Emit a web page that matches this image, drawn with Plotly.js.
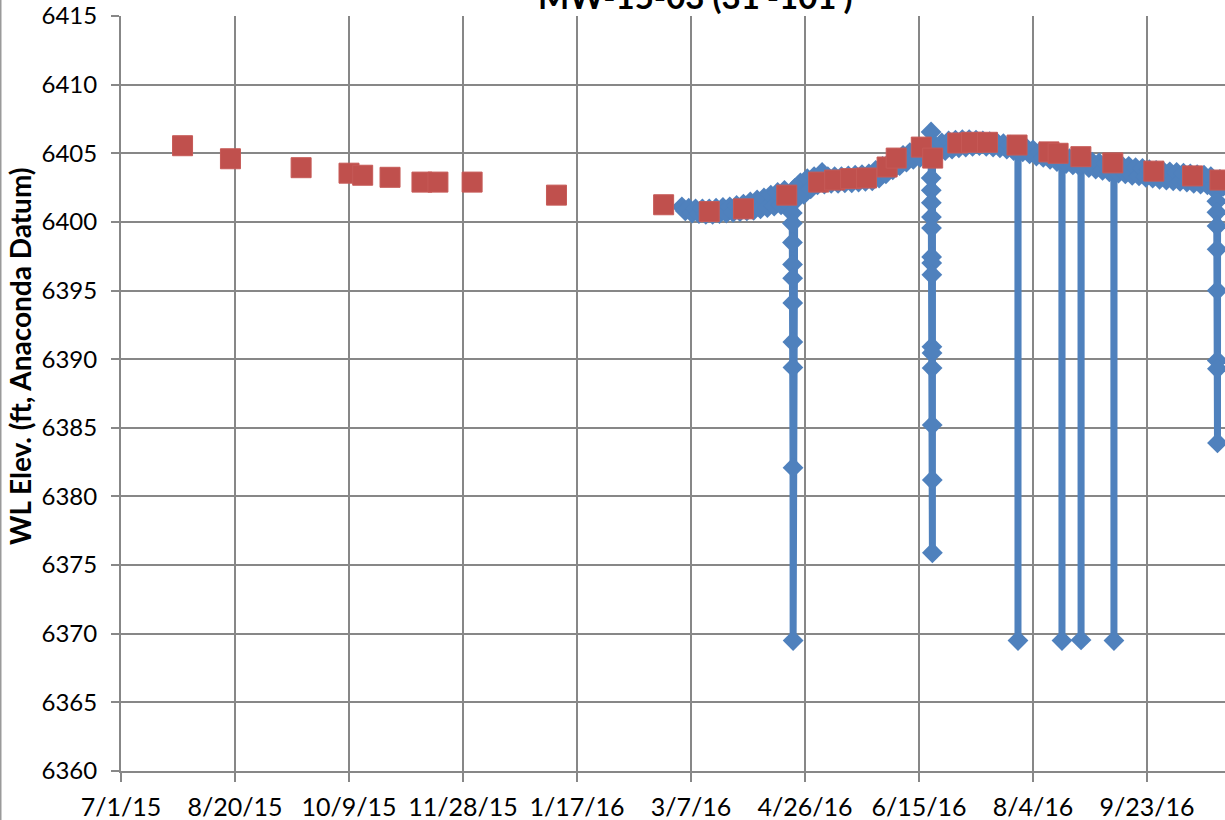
<!DOCTYPE html>
<html>
<head>
<meta charset="utf-8">
<script src="https://cdn.plot.ly/plotly-3.0.1.min.js"></script>
<style>
html,body{margin:0;padding:0;background:#fff;}
#chart{width:1225px;height:820px;}
</style>
</head>
<body>
<div id="chart"></div>
<script>
// Manual water-level measurements (red squares)
var manualDates = ['2015-07-28','2015-08-18','2015-09-18','2015-10-09','2015-10-15','2015-10-27',
  '2015-11-10','2015-11-17','2015-12-02','2016-01-08','2016-02-24','2016-03-15','2016-03-30',
  '2016-04-18','2016-05-02','2016-05-09','2016-05-16','2016-05-23','2016-06-01','2016-06-05',
  '2016-06-16','2016-06-21','2016-07-02','2016-07-08','2016-07-15','2016-07-28','2016-08-11',
  '2016-08-15','2016-08-25','2016-09-08','2016-09-26','2016-10-13','2016-10-25'];
var manualWL = [6405.55,6404.6,6403.95,6403.55,6403.4,6403.25,
  6402.9,6402.9,6402.9,6401.95,6401.25,6400.75,6400.95,
  6401.95,6402.9,6403.05,6403.15,6403.2,6404.0,6404.65,
  6405.45,6404.65,6405.75,6405.8,6405.8,6405.6,6405.1,
  6405.0,6404.75,6404.3,6403.7,6403.35,6403.05];

// Transducer record (blue diamonds)
var transducerTimes = [
  '2016-03-03 00:00','2016-03-04 12:00','2016-03-06 00:00','2016-03-07 12:00','2016-03-09 00:00','2016-03-10 12:00',
  '2016-03-12 00:00','2016-03-13 12:00','2016-03-15 00:00','2016-03-16 12:00','2016-03-18 00:00','2016-03-19 12:00',
  '2016-03-21 00:00','2016-03-22 12:00','2016-03-24 00:00','2016-03-25 12:00','2016-03-27 00:00','2016-03-28 12:00',
  '2016-03-30 00:00','2016-03-31 12:00','2016-04-02 00:00','2016-04-03 12:00','2016-04-05 00:00','2016-04-06 12:00',
  '2016-04-08 00:00','2016-04-09 12:00','2016-04-11 00:00','2016-04-12 12:00','2016-04-14 00:00','2016-04-15 12:00',
  '2016-04-17 00:00','2016-04-18 12:00',
  '2016-04-20 09:00','2016-04-20 10:00','2016-04-20 11:00','2016-04-20 12:00','2016-04-20 13:00','2016-04-20 14:00',
  '2016-04-20 15:00','2016-04-20 16:00','2016-04-20 17:00','2016-04-20 18:00','2016-04-20 19:00','2016-04-20 20:00',
  '2016-04-21 12:00','2016-04-22 12:00','2016-04-24 00:00','2016-04-25 12:00','2016-04-27 00:00','2016-04-28 12:00',
  '2016-04-30 00:00','2016-05-01 12:00','2016-05-03 12:00','2016-05-04 12:00','2016-05-06 00:00','2016-05-07 12:00',
  '2016-05-09 00:00','2016-05-10 12:00','2016-05-12 00:00','2016-05-13 12:00','2016-05-15 00:00','2016-05-16 12:00',
  '2016-05-18 00:00','2016-05-19 12:00','2016-05-21 00:00','2016-05-22 12:00','2016-05-24 00:00','2016-05-25 12:00',
  '2016-05-27 00:00','2016-05-28 12:00','2016-05-30 00:00','2016-05-31 12:00','2016-06-02 00:00','2016-06-03 12:00',
  '2016-06-05 00:00','2016-06-06 12:00','2016-06-08 00:00','2016-06-09 12:00','2016-06-11 00:00','2016-06-12 12:00',
  '2016-06-14 00:00','2016-06-15 12:00','2016-06-17 00:00','2016-06-18 12:00',
  '2016-06-20 06:00','2016-06-20 07:00','2016-06-20 08:00','2016-06-20 09:00','2016-06-20 10:00','2016-06-20 11:00',
  '2016-06-20 12:00','2016-06-20 13:00','2016-06-20 14:00','2016-06-20 15:00','2016-06-20 16:00','2016-06-20 17:00',
  '2016-06-20 18:00','2016-06-20 19:00','2016-06-20 20:00','2016-06-20 21:00','2016-06-20 22:00',
  '2016-06-22 00:00','2016-06-23 12:00','2016-06-25 00:00','2016-06-26 12:00','2016-06-28 00:00','2016-06-29 12:00',
  '2016-07-01 00:00','2016-07-02 12:00','2016-07-04 00:00','2016-07-05 12:00','2016-07-07 00:00','2016-07-08 12:00',
  '2016-07-10 00:00','2016-07-11 12:00','2016-07-13 00:00','2016-07-14 12:00','2016-07-16 00:00','2016-07-17 12:00',
  '2016-07-19 00:00','2016-07-20 12:00','2016-07-22 00:00','2016-07-23 12:00','2016-07-25 00:00','2016-07-26 12:00',
  '2016-07-28 09:00','2016-07-28 10:00','2016-07-28 11:00',
  '2016-07-29 12:00','2016-07-30 12:00','2016-08-01 00:00','2016-08-02 12:00','2016-08-04 00:00','2016-08-05 12:00',
  '2016-08-07 00:00','2016-08-08 12:00','2016-08-10 00:00','2016-08-11 12:00','2016-08-13 00:00','2016-08-14 12:00',
  '2016-08-16 16:00','2016-08-16 17:00','2016-08-16 18:00',
  '2016-08-17 12:00','2016-08-18 12:00','2016-08-20 00:00','2016-08-21 12:00','2016-08-23 00:00','2016-08-24 12:00',
  '2016-08-25 01:00','2016-08-25 02:00','2016-08-25 03:00',
  '2016-08-27 00:00','2016-08-28 12:00','2016-08-30 00:00','2016-08-31 12:00','2016-09-02 00:00','2016-09-03 12:00',
  '2016-09-05 00:00','2016-09-06 12:00',
  '2016-09-08 11:00','2016-09-08 12:00','2016-09-08 13:00',
  '2016-09-09 12:00','2016-09-10 12:00','2016-09-12 00:00','2016-09-13 12:00','2016-09-15 00:00','2016-09-16 12:00',
  '2016-09-18 00:00','2016-09-19 12:00','2016-09-21 00:00','2016-09-22 12:00','2016-09-24 00:00','2016-09-25 12:00',
  '2016-09-27 00:00','2016-09-28 12:00','2016-09-30 00:00','2016-10-01 12:00','2016-10-03 00:00','2016-10-04 12:00',
  '2016-10-06 00:00','2016-10-07 12:00','2016-10-09 00:00','2016-10-10 12:00','2016-10-12 00:00','2016-10-13 12:00',
  '2016-10-15 00:00','2016-10-16 12:00','2016-10-18 00:00','2016-10-19 12:00','2016-10-21 00:00','2016-10-22 12:00',
  '2016-10-23 13:00','2016-10-23 14:00','2016-10-23 15:00','2016-10-23 16:00','2016-10-23 17:00','2016-10-23 18:00',
  '2016-10-23 19:00','2016-10-23 20:00','2016-10-23 21:00','2016-10-23 22:00','2016-10-23 23:00',
  '2016-10-25 00:00','2016-10-26 12:00','2016-10-27 12:00'
];
var transducerWL = [
  6401.1,6400.8,6401.0,6400.65,6400.95,6400.6,
  6400.95,6400.55,6400.95,6400.55,6401.0,6400.6,
  6401.05,6400.65,6401.1,6400.7,6401.2,6400.75,
  6401.3,6400.8,6401.45,6400.85,6401.6,6400.95,
  6401.75,6401.05,6401.95,6401.15,6402.15,6401.25,
  6402.3,6401.4,
  6401.6,6400.65,6399.9,6398.5,6396.9,6395.9,
  6394.1,6391.25,6389.4,6382.1,6369.5,6401.9,
  6402.45,6401.7,6402.85,6402.0,6403.15,6402.4,
  6403.3,6402.7,6403.6,6402.75,6403.3,6402.8,
  6403.3,6402.8,6403.3,6402.85,6403.35,6402.85,
  6403.4,6402.9,6403.45,6402.95,6403.5,6403.0,
  6403.75,6403.2,6404.05,6403.5,6404.3,6403.8,
  6404.6,6404.1,6404.85,6404.35,6405.05,6404.55,
  6405.25,6404.7,6405.4,6404.85,
  6405.3,6406.55,6403.2,6402.3,6401.4,6400.35,
  6399.55,6397.45,6397.0,6396.15,6390.9,6390.45,
  6389.35,6385.2,6381.2,6375.9,6405.0,
  6405.55,6405.1,6405.75,6405.2,6405.9,6405.3,
  6405.95,6405.4,6406.0,6405.45,6406.0,6405.5,
  6405.95,6405.55,6405.9,6405.5,6405.85,6405.45,
  6405.8,6405.4,6405.7,6405.3,6405.6,6405.2,
  6405.3,6369.5,6405.2,
  6405.5,6405.1,6405.4,6404.95,6405.25,6404.8,
  6405.1,6404.7,6404.95,6404.55,6404.8,6404.4,
  6404.5,6369.5,6404.4,
  6404.65,6404.25,6404.6,6404.15,6404.5,6404.05,
  6404.3,6369.55,6404.2,
  6404.4,6403.95,6404.35,6403.85,6404.3,6403.75,
  6404.25,6403.65,
  6404.1,6369.5,6404.0,
  6404.15,6403.55,6404.1,6403.5,6404.05,6403.4,
  6403.95,6403.35,6403.9,6403.25,6403.8,6403.2,
  6403.75,6403.1,6403.7,6403.05,6403.65,6403.0,
  6403.6,6402.95,6403.55,6402.9,6403.5,6402.8,
  6403.45,6402.75,6403.4,6402.7,6403.3,6402.65,
  6402.9,6402.2,6401.5,6400.7,6399.7,6398.0,
  6395.0,6389.9,6389.3,6383.9,6402.8,
  6403.1,6402.6,6402.85
];

// Axis ticks
var xTickDates = ['2015-07-01','2015-08-20','2015-10-09','2015-11-28','2016-01-17',
  '2016-03-07','2016-04-26','2016-06-15','2016-08-04','2016-09-23'];
var xTickLabels = ['7/1/15','8/20/15','10/9/15','11/28/15','1/17/16',
  '3/7/16','4/26/16','6/15/16','8/4/16','9/23/16'];
var xRange = ['2015-07-01 00:00','2016-10-27 05:00'];
var yRange = [6360, 6415];

var chartTitle = "MW-15-03 (31'-101')";
var yTitle = 'WL Elev. (ft, Anaconda Datum)';

var gridCol = '#878787';
var W = 1225, H = 820, ML = 121, MR = 0, MT = 16, MB = 49;
var PW = W - ML - MR, PH = H - MT - MB;
function px2paperX(px){ return (px - ML) / PW; }
function px2paperY(py){ return (H - MB - py) / PH; }

var traces = [
  {
    x: transducerTimes, y: transducerWL, type: 'scatter', mode: 'lines+markers',
    line: {color: '#4F81BD', width: 7},
    marker: {symbol: 'diamond', size: 16, color: '#4F81BD', line: {width: 0}},
    hoverinfo: 'skip', showlegend: false
  },
  {
    x: manualDates, y: manualWL, type: 'scatter', mode: 'markers',
    marker: {symbol: 'square', size: 20, color: '#C0504D', line: {width: 1, color: '#C65A57'}},
    hoverinfo: 'skip', showlegend: false
  }
];

var layout = {
  width: W, height: H,
  margin: {l: ML, r: MR, t: MT, b: MB, pad: 0},
  paper_bgcolor: '#ffffff', plot_bgcolor: '#ffffff',
  font: {family: 'Lato, "Open Sans", sans-serif', color: '#000'},
  showlegend: false,
  xaxis: {
    type: 'date', range: xRange, autorange: false,
    tickmode: 'array', tickvals: xTickDates, ticktext: xTickLabels,
    showgrid: true, gridcolor: gridCol, gridwidth: 2,
    showline: true, linecolor: gridCol, linewidth: 2,
    ticks: 'outside', ticklen: 9, tickwidth: 2, tickcolor: gridCol,
    tickfont: {family: 'Lato', size: 25, color: '#000'},
    ticklabelstandoff: 4, ticklabeloverflow: 'allow',
    zeroline: false, automargin: false, fixedrange: true
  },
  yaxis: {
    range: yRange, autorange: false, dtick: 5, tick0: 6360,
    showgrid: true, gridcolor: gridCol, gridwidth: 2,
    showline: true, linecolor: gridCol, linewidth: 2,
    ticks: 'outside', ticklen: 8, tickwidth: 2, tickcolor: gridCol,
    tickfont: {family: 'Lato', size: 24, color: '#000'},
    ticklabelstandoff: 9, ticklabeloverflow: 'allow',
    zeroline: false, automargin: false, fixedrange: true
  },
  annotations: [
    {
      text: '<b>' + chartTitle + '</b>', xref: 'paper', yref: 'paper',
      x: px2paperX(695), y: px2paperY(18), xanchor: 'center', yanchor: 'bottom',
      showarrow: false, font: {family: 'Lato', size: 33, color: '#000'}
    },
    {
      text: '<b>' + yTitle + '</b>', xref: 'paper', yref: 'paper',
      x: px2paperX(20), y: px2paperY(356), xanchor: 'center', yanchor: 'middle',
      textangle: -90, showarrow: false, font: {family: 'Lato', size: 28, color: '#000'}
    }
  ],
  shapes: [
    {type: 'line', xref: 'paper', yref: 'paper', x0: px2paperX(0.75), x1: px2paperX(0.75),
     y0: px2paperY(H), y1: px2paperY(0), line: {color: '#9a9a9a', width: 1.5}}
  ]
};

Plotly.newPlot('chart', traces, layout, {staticPlot: true, displayModeBar: false});
</script>
</body>
</html>
